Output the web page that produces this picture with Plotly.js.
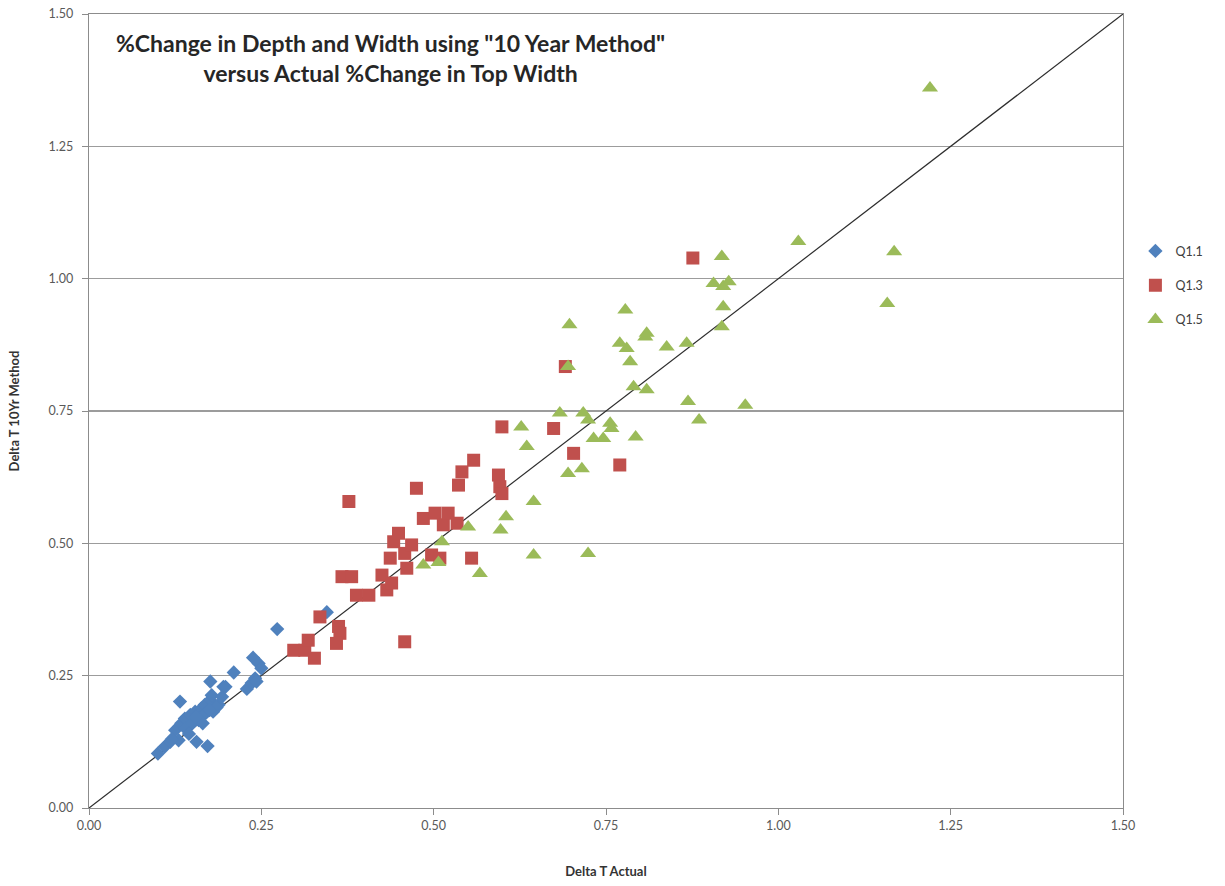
<!DOCTYPE html>
<html>
<head>
<meta charset="utf-8">
<script src="https://cdn.plot.ly/plotly-3.0.1.min.js"></script>
<style>html,body{margin:0;padding:0;background:#fff;}#chart{width:1225px;height:886px;}</style>
</head>
<body>
<div id="chart"></div>
<script>
// Q1.1 series (blue diamonds)
const q11X = [0.100,0.110,0.118,0.130,0.125,0.132,0.134,0.139,0.147,0.154,0.159,0.163,0.168,0.176,0.178,0.176,0.180,0.188,0.195,0.193,0.156,0.172,0.210,0.229,0.236,0.241,0.238,0.246,0.250,0.273,0.345,0.120,0.140,0.150,0.160,0.170,0.145,0.165,0.155,0.185,0.175,0.198,0.243];
const q11Y = [0.103,0.116,0.125,0.128,0.147,0.201,0.160,0.169,0.176,0.182,0.166,0.188,0.195,0.204,0.213,0.239,0.182,0.195,0.229,0.210,0.125,0.117,0.256,0.225,0.236,0.245,0.284,0.273,0.264,0.338,0.370,0.130,0.150,0.160,0.170,0.180,0.140,0.160,0.172,0.190,0.185,0.229,0.239];

// Q1.3 series (red squares)
const q13X = [0.297,0.313,0.318,0.327,0.335,0.362,0.364,0.359,0.367,0.381,0.377,0.388,0.406,0.425,0.432,0.439,0.437,0.442,0.449,0.458,0.461,0.468,0.458,0.475,0.485,0.497,0.502,0.509,0.514,0.521,0.534,0.536,0.541,0.555,0.558,0.594,0.596,0.599,0.599,0.674,0.703,0.770,0.691,0.876];
const q13Y = [0.298,0.298,0.317,0.283,0.361,0.343,0.330,0.311,0.437,0.437,0.579,0.402,0.402,0.440,0.412,0.425,0.472,0.503,0.519,0.481,0.453,0.497,0.314,0.604,0.547,0.478,0.557,0.472,0.535,0.557,0.538,0.610,0.635,0.472,0.657,0.629,0.607,0.594,0.720,0.717,0.670,0.648,0.834,1.039];

// Q1.5 series (green triangles)
const q15X = [0.485,0.507,0.512,0.550,0.567,0.597,0.605,0.645,0.645,0.724,0.627,0.635,0.695,0.715,0.683,0.717,0.724,0.756,0.758,0.732,0.746,0.793,0.695,0.697,0.778,0.770,0.780,0.785,0.790,0.809,0.807,0.809,0.838,0.867,0.869,0.885,0.952,0.906,0.918,0.920,0.928,0.920,0.918,1.029,1.158,1.168,1.220];
const q15Y = [0.459,0.464,0.503,0.531,0.443,0.525,0.550,0.579,0.478,0.481,0.720,0.683,0.632,0.641,0.746,0.746,0.733,0.727,0.717,0.698,0.698,0.701,0.834,0.913,0.941,0.878,0.868,0.843,0.796,0.790,0.890,0.897,0.871,0.878,0.768,0.733,0.761,0.991,1.042,0.985,0.994,0.947,0.909,1.070,0.953,1.051,1.360];

// 1:1 reference line
const refX = [0, 1.5];
const refY = [0, 1.5];

const seriesNames = ["Q1.1", "Q1.3", "Q1.5"];
const tickVals = [0, 0.25, 0.5, 0.75, 1.0, 1.25, 1.5];

const font = "Lato, 'Open Sans', sans-serif";

const traces = [
  {x: refX, y: refY, mode: 'lines', line: {color: 'rgb(45,45,45)', width: 1.2}, showlegend: false, hoverinfo: 'skip'},
  {x: q11X, y: q11Y, mode: 'markers', name: seriesNames[0], legendgroup: 'a',
   marker: {symbol: 'diamond', size: 11, color: '#4F81BD'}},
  {x: q13X, y: q13Y, mode: 'markers', name: seriesNames[1], legendgroup: 'b',
   marker: {symbol: 'square', size: 13, color: '#C0504D'}},
  {x: q15X, y: q15Y, mode: 'markers', name: seriesNames[2], legendgroup: 'c',
   marker: {symbol: 'triangle-up', size: 14, color: '#9BBB59'}}
];

const axisCommon = {
  range: [0, 1.5], tickvals: tickVals, tickformat: '.2f',
  showline: true, linecolor: '#8c8c8c', linewidth: 1.3, mirror: true,
  ticks: 'outside', ticklen: 6, tickcolor: '#8c8c8c', tickwidth: 1,
  tickfont: {family: font, size: 12.5, color: '#595959'},
  zeroline: false
};

const layout = {
  width: 1225, height: 886,
  margin: {l: 89, r: 102, t: 14, b: 78},
  paper_bgcolor: '#fff', plot_bgcolor: '#fff',
  xaxis: Object.assign({}, axisCommon, {
    showgrid: false,
    title: {text: '<b>Delta T Actual</b>', font: {family: font, size: 13, color: '#333'}, standoff: 34}
  }),
  yaxis: Object.assign({}, axisCommon, {
    showgrid: true, gridcolor: '#9c9c9c', gridwidth: 1.3,
    ticklabelstandoff: 6,
    title: {text: '<b>Delta T 10Yr Method</b>', font: {family: font, size: 13, color: '#333'}, standoff: 26}
  }),
  showlegend: true,
  legend: {x: 1.012, y: 0.72, xanchor: 'left', yanchor: 'top', traceorder: 'grouped',
           tracegroupgap: 15, font: {family: font, size: 12.5, color: '#404040'},
           bgcolor: 'rgba(0,0,0,0)', itemwidth: 30},
  annotations: [{
    xref: 'paper', yref: 'paper', x: 0.292, y: 0.944, xanchor: 'center', yanchor: 'middle',
    showarrow: false, align: 'center',
    text: '<b>%Change in Depth and Width using "10 Year Method"<br>versus Actual %Change in Top Width</b>',
    font: {family: font, size: 23, color: '#262626'}
  }]
};

Plotly.newPlot('chart', traces, layout, {displayModeBar: false, staticPlot: true});
</script>
</body>
</html>
